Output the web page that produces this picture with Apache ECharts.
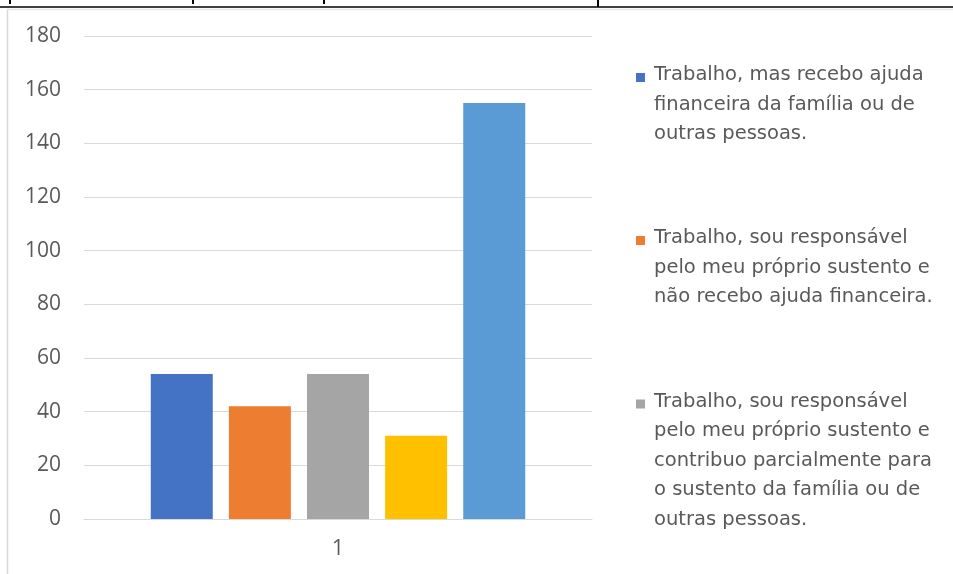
<!DOCTYPE html>
<html><head><meta charset="utf-8">
<script src="https://cdn.jsdelivr.net/npm/echarts@6/dist/echarts.min.js"></script>
<style>html,body{margin:0;padding:0;background:#fff}#c{width:953px;height:574px}</style>
</head><body><div id="c"></div>
<script>
// ---- data ----
const categories = ['1'];
const seriesNames = [
  'Trabalho, mas recebo ajuda financeira da família ou de outras pessoas.',
  'Trabalho, sou responsável pelo meu próprio sustento e não recebo ajuda financeira.',
  'Trabalho, sou responsável pelo meu próprio sustento e contribuo parcialmente para o sustento da família ou de outras pessoas.',
  'Série 4',
  'Série 5'
];
const legendLines = [
  ['Trabalho, mas recebo ajuda', 'financeira da família ou de', 'outras pessoas.'],
  ['Trabalho, sou responsável', 'pelo meu próprio sustento e', 'não recebo ajuda financeira.'],
  ['Trabalho, sou responsável', 'pelo meu próprio sustento e', 'contribuo parcialmente para', 'o sustento da família ou de', 'outras pessoas.']
];
const values = [54, 42, 54, 31, 155];
const yMin = 0, yMax = 180, yStep = 20;

// ---- style ----
const colors = ['#4472C4', '#ED7D31', '#A5A5A5', '#FFC000', '#5B9BD5'];
const textColor = '#595959';
const gridColor = '#d9d9d9';
const LH = 29.5;          // legend line height
const ICON = 9;           // legend icon size
const iconCenters = [77.5, 240.5, 404];

const legends = legendLines.map((lines, i) => {
  const n = lines.length;
  const P = (n - 1) * LH - 5;
  const H = n * LH + P;
  return {
    show: true,
    orient: 'vertical',
    left: 636,
    top: iconCenters[i] - H / 2,
    padding: 0,
    itemWidth: ICON,
    itemHeight: ICON,
    icon: 'rect',
    selectedMode: false,
    data: [seriesNames[i]],
    formatter: () => '{e| }\n' + lines.map(l => '{t|' + l + '}').join('\n'),
    textStyle: {
      fontFamily: 'DejaVu Sans',
      fontSize: 19.5,
      color: textColor,
      lineHeight: LH,
      rich: {
        e: { fontSize: 1, lineHeight: P, height: P },
        t: { fontFamily: 'DejaVu Sans', fontSize: 19.5, color: textColor, lineHeight: LH, padding: [0, 0, 0, 4] }
      }
    }
  };
});

const series = values.map((v, i) => ({
  name: seriesNames[i],
  type: 'bar',
  data: [v],
  barWidth: 62,
  barGap: '26%',
  itemStyle: { color: colors[i] },
  emphasis: { disabled: true }
}));

const chart = echarts.init(document.getElementById('c'), null, { renderer: 'canvas' });
chart.setOption({
  animation: false,
  backgroundColor: '#ffffff',
  color: colors,
  grid: { left: 84, right: 361, top: 36, bottom: 55, containLabel: false },
  xAxis: {
    type: 'category',
    data: categories,
    axisLine: { show: true, lineStyle: { color: gridColor, width: 1 } },
    axisTick: { show: false },
    axisLabel: { fontFamily: 'Open Sans', fontSize: 21, color: textColor, margin: 20 }
  },
  yAxis: {
    type: 'value',
    min: yMin, max: yMax, interval: yStep,
    axisLine: { show: false },
    axisTick: { show: false },
    axisLabel: { fontFamily: 'Open Sans', fontSize: 21, color: textColor, margin: 23 },
    splitLine: { show: true, lineStyle: { color: gridColor, width: 1 } }
  },
  legend: legends,
  series: series,
  graphic: [
    { type: 'line', shape: { x1: 0, y1: 7, x2: 953, y2: 7 }, style: { stroke: '#000', lineWidth: 1.5 }, silent: true },
    { type: 'line', shape: { x1: 598, y1: 0, x2: 598, y2: 7 }, style: { stroke: '#000', lineWidth: 2 }, silent: true },
    { type: 'line', shape: { x1: 10, y1: 0, x2: 10, y2: 4 }, style: { stroke: '#000', lineWidth: 2 }, silent: true },
    { type: 'line', shape: { x1: 193, y1: 0, x2: 193, y2: 4 }, style: { stroke: '#000', lineWidth: 2 }, silent: true },
    { type: 'line', shape: { x1: 324, y1: 0, x2: 324, y2: 4 }, style: { stroke: '#000', lineWidth: 2 }, silent: true },
    { type: 'line', shape: { x1: 7.5, y1: 9, x2: 7.5, y2: 574 }, style: { stroke: gridColor, lineWidth: 1.5 }, silent: true },
    { type: 'line', shape: { x1: 7, y1: 9.5, x2: 953, y2: 9.5 }, style: { stroke: '#e6e6e6', lineWidth: 1.5 }, silent: true }
  ]
});
</script>
</body></html>
